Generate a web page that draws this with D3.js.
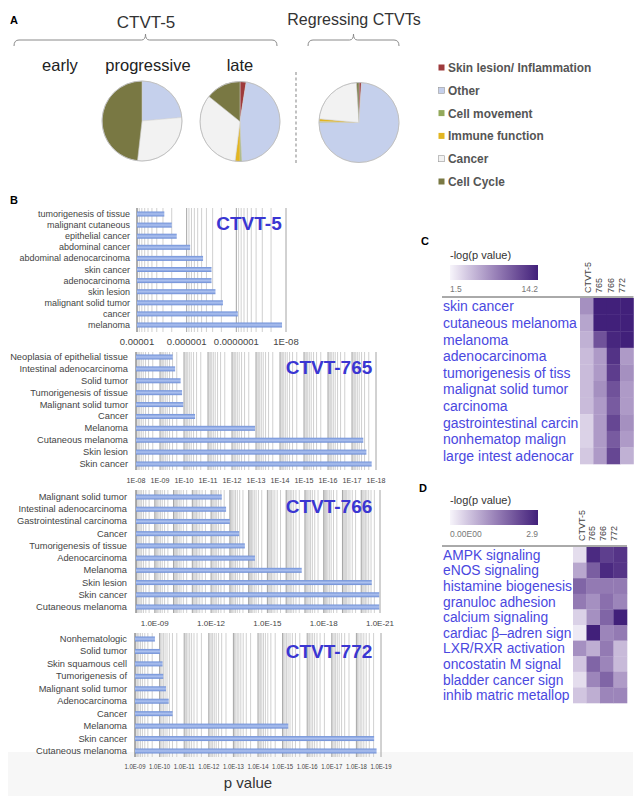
<!DOCTYPE html>
<html><head><meta charset="utf-8">
<script src="https://cdn.jsdelivr.net/npm/d3@7"></script>
<style>body{margin:0;background:#fff}svg{display:block}text{font-family:"Liberation Sans",Arial,sans-serif}</style>
</head><body><svg id="c" width="637" height="799"></svg>
<script>
// ---------- DATA ----------
const pieCategories = ["Skin lesion/ Inflammation","Other","Cell movement","Immune function","Cancer","Cell Cycle"];
const pieColors = ["#9e3a3c","#c5d0ec","#93a95b","#e2b521","#f2f2f2","#797843"];
const progressiveShares = [0, 23.6, 0, 0, 28.2, 48.2];
const lateShares = [2.5, 46.8, 0.7, 2.0, 33.8, 14.2];
const regressingShares = [1.0, 74.0, 0.4, 1.1, 22.5, 1.0];

const ctvt5Terms = ["tumorigenesis of tissue","malignant cutaneous","epithelial cancer","abdominal cancer","abdominal adenocarcinoma","skin cancer","adenocarcinoma","skin lesion","malignant solid tumor","cancer","melanoma"];
const ctvt5NegLogP = [5.55,5.70,5.80,6.07,6.33,6.50,6.50,6.58,6.73,7.03,7.92];
const ctvt5Ticks = [1e-5,1e-6,1e-7,1e-8];
const ctvt5TickLabels = ["0.00001","0.000001","0.0000001","1E-08"];

const ctvt765Terms = ["Neoplasia of epithelial tissue","Intestinal adenocarcinoma","Solid tumor","Tumorigenesis of tissue","Malignant solid tumor","Cancer","Melanoma","Cutaneous melanoma","Skin lesion","Skin cancer"];
const ctvt765NegLogP = [9.53,9.63,9.86,9.92,9.97,10.46,12.96,17.47,17.60,17.82];
const ctvt765Ticks = [1e-8,1e-9,1e-10,1e-11,1e-12,1e-13,1e-14,1e-15,1e-16,1e-17,1e-18];
const ctvt765TickLabels = ["1E-08","1E-09","1E-10","1E-11","1E-12","1E-13","1E-14","1E-15","1E-16","1E-17","1E-18"];

const ctvt766Terms = ["Malignant solid tumor","Intestinal adenocarcinoma","Gastrointestinal carcinoma","Cancer","Tumorigenesis of tissue","Adenocarcinoma","Melanoma","Skin lesion","Skin cancer","Cutaneous melanoma"];
const ctvt766NegLogP = [12.57,12.80,13.00,13.50,13.80,14.34,16.83,20.56,20.96,20.96];
const ctvt766Ticks = [1e-9,1e-12,1e-15,1e-18,1e-21];
const ctvt766TickLabels = ["1.0E-09","1.0E-12","1.0E-15","1.0E-18","1.0E-21"];

const ctvt772Terms = ["Nonhematologic","Solid tumor","Skin squamous cell","Tumorigenesis of","Malignant solid tumor","Adenocarcinoma","Cancer","Melanoma","Skin cancer","Cutaneous melanoma"];
const ctvt772NegLogP = [9.81,10.02,10.12,10.15,10.26,10.37,10.53,15.23,18.72,18.82];
const ctvt772Ticks = [1e-9,1e-10,1e-11,1e-12,1e-13,1e-14,1e-15,1e-16,1e-17,1e-18,1e-19];
const ctvt772TickLabels = ["1.0E-09","1.0E-10","1.0E-11","1.0E-12","1.0E-13","1.0E-14","1.0E-15","1.0E-16","1.0E-17","1.0E-18","1.0E-19"];

const heatSamples = ["CTVT-5","765","766","772"];
const heatCTerms = ["skin cancer","cutaneous melanoma","melanoma","adenocarcinoma","tumorigenesis of tiss","malignat solid tumor","carcinoma","gastrointestinal carcin","nonhematop malign","large intest adenocar"];
const heatCValues = [
  [7.2,14.2,14.2,14.2],
  [6.0,14.2,14.2,14.2],
  [5.3,11.0,13.8,14.2],
  [4.7,6.6,13.0,6.6],
  [4.7,6.6,12.3,7.2],
  [4.7,7.2,11.0,6.6],
  [4.7,6.6,10.4,6.6],
  [3.4,6.6,11.7,7.2],
  [3.4,6.6,10.4,6.6],
  [4.0,6.6,11.7,5.3]
];
const heatCRange = [1.5,14.2];
const heatCRangeLabels = ["1.5","14.2"];

const heatDTerms = ["AMPK signaling","eNOS signaling","histamine biogenesis","granuloc adhesion","calcium signaling","cardiac β–adren sign","LXR/RXR activation","oncostatin M signal","bladder cancer sign","inhib matric metallop"];
const heatDValues = [
  [0.30,2.75,2.45,2.60],
  [1.00,2.00,2.75,2.60],
  [1.90,1.60,1.60,1.60],
  [1.60,1.30,1.75,1.45],
  [0.45,1.30,1.90,2.90],
  [0.15,2.90,1.45,1.60],
  [1.30,0.90,1.60,0.75],
  [0.60,1.90,1.45,0.75],
  [0.30,1.45,1.90,1.15],
  [0.60,0.90,1.45,1.45]
];
const heatDRange = [0,2.9];
const heatDRangeLabels = ["0.00E00","2.9"];

// ---------- DRAW ----------
const svg = d3.select("#c");
const defs = svg.append("defs");

svg.append("rect").attr("x",8).attr("y",752).attr("width",625).attr("height",44).attr("fill","#f7f7f7");

// Panel A
svg.append("text").attr("x",10).attr("y",24).attr("font-size",11).attr("font-weight","bold").text("A");
function bracket(x0,x1,y){
  const cx=(x0+x1)/2;
  svg.append("path").attr("fill","none").attr("stroke","#8a8a8a").attr("stroke-width",1)
    .attr("d",`M${x0},${y+6} Q${x0},${y} ${x0+5},${y} L${cx-4},${y} Q${cx},${y} ${cx},${y-6} Q${cx},${y} ${cx+4},${y} L${x1-5},${y} Q${x1},${y} ${x1},${y+6}`);
}
svg.append("text").attr("x",146).attr("y",28).attr("text-anchor","middle").attr("font-size",17).attr("fill","#333").text("CTVT-5");
bracket(14,277,40);
svg.append("text").attr("x",354).attr("y",25).attr("text-anchor","middle").attr("font-size",16).attr("fill","#333").text("Regressing CTVTs");
bracket(308,399,40);
[["early",60],["progressive",148],["late",240]].forEach(([t,x])=>{
  svg.append("text").attr("x",x).attr("y",71).attr("text-anchor","middle").attr("font-size",16.5).attr("fill","#222").text(t);
});
svg.append("line").attr("x1",296).attr("x2",296).attr("y1",72).attr("y2",164)
  .attr("stroke","#999").attr("stroke-width",1.2).attr("stroke-dasharray","3,2.5");

const pie = d3.pie().sort(null).value(d=>d);
const arc = d3.arc().innerRadius(0).outerRadius(40);
[[progressiveShares,142,121],[lateShares,240,121.5],[regressingShares,359,122.5]].forEach(([vals,cx,cy])=>{
  const g = svg.append("g").attr("transform",`translate(${cx},${cy})`);
  g.selectAll("path").data(pie(vals)).join("path")
    .attr("d",arc).attr("fill",(d,i)=>pieColors[i])
    .attr("stroke",(d)=>d.value>0?"#d0d0d0":"none").attr("stroke-width",0.5);
  g.append("circle").attr("r",40).attr("fill","none").attr("stroke","#bdbdbd").attr("stroke-width",0.9);
});

// legend
pieCategories.forEach((c,i)=>{
  const y = 68 + i*22.8;
  svg.append("rect").attr("x",438.5).attr("y",y-3.5).attr("width",6).attr("height",6)
    .attr("fill",pieColors[i]).attr("stroke",i===4||i===1?"#999":"none").attr("stroke-width",0.6);
  svg.append("text").attr("x",448).attr("y",y+4).attr("font-size",11.9).attr("font-weight","bold").attr("fill","#555").text(c);
});

// Panel B
svg.append("text").attr("x",10).attr("y",204).attr("font-size",11).attr("font-weight","bold").text("B");

const bg = defs.append("linearGradient").attr("id","barg").attr("x1",0).attr("x2",0).attr("y1",0).attr("y2",1);
bg.append("stop").attr("offset","0%").attr("stop-color","#6f90d8");
bg.append("stop").attr("offset","50%").attr("stop-color","#aec2ef");
bg.append("stop").attr("offset","100%").attr("stop-color","#6b8cd5");

function barChart(terms, vals, cfg){
  const g = svg.append("g");
  const x = d3.scaleLog().domain(cfg.domain).range(cfg.xr);
  const y = d3.scalePoint().domain(terms).range(cfg.yc);
  const lo = Math.round(-Math.log10(cfg.domain[0])), hi = Math.round(-Math.log10(cfg.domain[1]));
  for(let e=lo;e<hi;e++){
    for(let k=9;k>=2;k--){
      const v = k*Math.pow(10,-(e+1));
      g.append("line").attr("x1",x(v)).attr("x2",x(v)).attr("y1",cfg.top).attr("y2",cfg.bottom)
        .attr("stroke","#c4c4c4").attr("stroke-width",0.8);
    }
  }
  for(let e=lo;e<=hi;e++){
    const v=Math.pow(10,-e);
    g.append("line").attr("x1",x(v)).attr("x2",x(v)).attr("y1",cfg.top).attr("y2",cfg.bottom)
      .attr("stroke","#9a9a9a").attr("stroke-width",0.9);
  }
  g.append("line").attr("x1",cfg.xr[0]).attr("x2",cfg.xr[0]).attr("y1",cfg.top).attr("y2",cfg.bottom).attr("stroke","#888");
  g.selectAll("rect.bar").data(terms).join("rect").attr("class","bar")
    .attr("x",cfg.xr[0]).attr("y",d=>y(d)-2.5).attr("height",5)
    .attr("width",(d,i)=>Math.max(0,x(Math.pow(10,-vals[i]))-cfg.xr[0]))
    .attr("fill","url(#barg)");
  g.selectAll("text.cat").data(terms).join("text").attr("class","cat")
    .attr("x",cfg.labelX).attr("y",d=>y(d)+3).attr("text-anchor","end")
    .attr("font-size",cfg.catSize).attr("fill","#444").text(d=>d);
  cfg.ticks.forEach((t,i)=>{
    const tx = g.append("text").attr("x",x(t)).attr("y",cfg.tickY).attr("text-anchor","middle")
      .attr("font-size",cfg.tickSize).attr("fill","#444").text(cfg.tickLabels[i]);
    if(cfg.tickLen) tx.attr("textLength",cfg.tickLen).attr("lengthAdjust","spacingAndGlyphs");
  });
  g.append("text").attr("x",cfg.titleX).attr("y",cfg.titleY).attr("text-anchor","middle")
    .attr("font-size",19).attr("font-weight","bold").attr("fill","#3a36d2").text(cfg.title);
}

barChart(ctvt5Terms, ctvt5NegLogP, {domain:[1e-5,1e-8], xr:[137,286], yc:[214,325], top:208, bottom:332,
  labelX:130, catSize:9, ticks:ctvt5Ticks, tickLabels:ctvt5TickLabels, tickY:345, tickSize:9.5, title:"CTVT-5", titleX:249, titleY:230});
barChart(ctvt765Terms, ctvt765NegLogP, {domain:[1e-8,1e-18], xr:[136,376], yc:[357,464], top:352, bottom:470,
  labelX:128, catSize:9.3, ticks:ctvt765Ticks, tickLabels:ctvt765TickLabels, tickY:483, tickSize:8, tickLen:19, title:"CTVT-765", titleX:329, titleY:374});
barChart(ctvt766Terms, ctvt766NegLogP, {domain:[1e-8,1e-21], xr:[136,380], yc:[497,607], top:490, bottom:613,
  labelX:127, catSize:9.3, ticks:ctvt766Ticks, tickLabels:ctvt766TickLabels, tickY:626, tickSize:8, title:"CTVT-766", titleX:329, titleY:513});
barChart(ctvt772Terms, ctvt772NegLogP, {domain:[1e-9,1e-19], xr:[135,381], yc:[639,751], top:633, bottom:757,
  labelX:127, catSize:9.3, ticks:ctvt772Ticks, tickLabels:ctvt772TickLabels, tickY:769, tickSize:7.6, tickLen:21, title:"CTVT-772", titleX:329, titleY:658});

svg.append("text").attr("x",248).attr("y",788).attr("text-anchor","middle").attr("font-size",15).attr("fill","#333").text("p value");

// Panels C, D heatmaps
function heatmap(terms, values, range, rangeLabels, cfg, letter){
  const g = svg.append("g");
  const color = d3.scaleSequential(d3.interpolateLab("#f7f5fb","#41207a")).domain(range).clamp(true);
  g.append("text").attr("x",cfg.letterX).attr("y",cfg.letterY).attr("font-size",11).attr("font-weight","bold").text(letter);
  g.append("text").attr("x",450).attr("y",cfg.cbTop-6).attr("font-size",11).attr("fill","#333").text("-log(p value)");
  const gid = "cb"+letter;
  const lg = defs.append("linearGradient").attr("id",gid);
  d3.range(0,1.01,0.1).forEach(t=>lg.append("stop").attr("offset",(t*100)+"%").attr("stop-color",color(range[0]+t*(range[1]-range[0]))));
  g.append("rect").attr("x",450).attr("y",cfg.cbTop).attr("width",88).attr("height",15).attr("fill",`url(#${gid})`);
  g.append("text").attr("x",450).attr("y",cfg.cbTop+27).attr("font-size",8.5).attr("fill","#777").text(rangeLabels[0]);
  g.append("text").attr("x",538).attr("y",cfg.cbTop+27).attr("text-anchor","end").attr("font-size",8.5).attr("fill","#777").text(rangeLabels[1]);
  const x = d3.scaleBand().domain(heatSamples).range(cfg.xr);
  const y = d3.scaleBand().domain(terms).range(cfg.yr);
  values.forEach((row,i)=>row.forEach((v,j)=>{
    g.append("rect").attr("x",x(heatSamples[j])).attr("y",y(terms[i])).attr("width",x.bandwidth()+0.3).attr("height",y.bandwidth()+0.3)
      .attr("fill",color(v));
  }));
  g.append("line").attr("x1",442).attr("x2",cfg.xr[1]).attr("y1",cfg.yr[0]-1).attr("y2",cfg.yr[0]-1).attr("stroke","#555").attr("stroke-width",1);
  heatSamples.forEach((s,j)=>{
    g.append("text").attr("transform",`translate(${cfg.colLabelX0+j*cfg.colLabelStep},${cfg.colLabelY}) rotate(-90)`)
      .attr("font-size",9).attr("fill","#444").text(s);
  });
  terms.forEach(t=>{
    g.append("text").attr("x",443).attr("y",y(t)+y.bandwidth()/2+5).attr("font-size",cfg.fs).attr("fill","#4a48df").text(t);
  });
}
heatmap(heatCTerms, heatCValues, heatCRange, heatCRangeLabels,
  {letterX:421,letterY:245,cbTop:265,xr:[580,633.5],yr:[298,464],colLabelX0:591,colLabelStep:11.3,colLabelY:293,fs:14}, "C");
heatmap(heatDTerms, heatDValues, heatDRange, heatDRangeLabels,
  {letterX:419,letterY:492,cbTop:510,xr:[573,627],yr:[547,703],colLabelX0:584.5,colLabelStep:10.8,colLabelY:541,fs:13.8}, "D");
</script></body></html>
